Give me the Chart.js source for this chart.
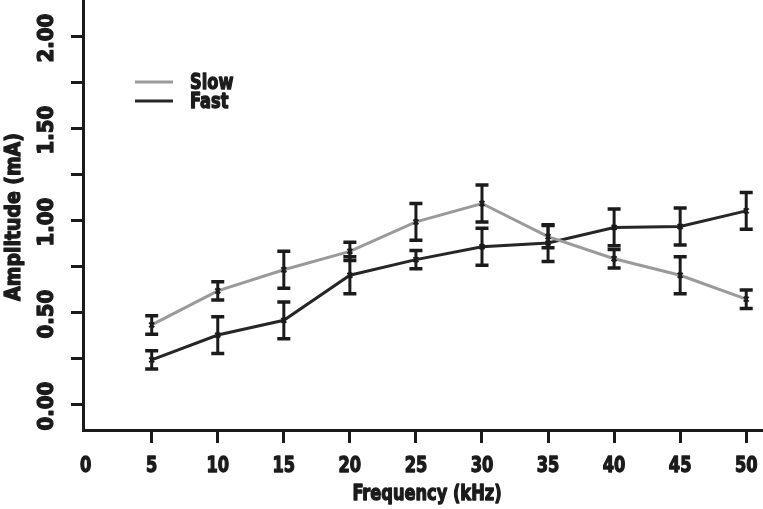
<!DOCTYPE html>
<html>
<head>
<meta charset="utf-8">
<script src="https://cdn.jsdelivr.net/npm/chart.js@4/dist/chart.umd.min.js"></script>
<style>
  html, body { margin: 0; padding: 0; background: #ffffff; }
  #wrap { width: 763px; height: 509px; }
</style>
</head>
<body>
<div id="wrap"><canvas id="c" width="763" height="509"></canvas></div>
<script>
// ---- data ----
const frequencies = [5, 10, 15, 20, 25, 30, 35, 40, 45, 50];
const slowValues  = [0.43, 0.615, 0.73, 0.83, 0.99, 1.09, 0.91, 0.79, 0.70, 0.57];
const slowErrors  = [0.05, 0.05, 0.10, 0.05, 0.10, 0.10, 0.06, 0.05, 0.10, 0.05];
const fastValues  = [0.24, 0.375, 0.455, 0.70, 0.785, 0.855, 0.875, 0.96, 0.965, 1.05];
const fastErrors  = [0.05, 0.10, 0.10, 0.10, 0.05, 0.10, 0.10, 0.10, 0.10, 0.10];
const seriesNames = ['Slow', 'Fast'];
const xTickValues = [0, 5, 10, 15, 20, 25, 30, 35, 40, 45, 50];
const xTickLabels = ['0', '5', '10', '15', '20', '25', '30', '35', '40', '45', '50'];
const yTickValues = [0, 0.25, 0.5, 0.75, 1.0, 1.25, 1.5, 1.75, 2.0];
const yLabelValues = [0, 0.5, 1.0, 1.5, 2.0];
const yTickLabels = ['0.00', '0.50', '1.00', '1.50', '2.00'];
const xTitle = 'Frequency (kHz)';
const yTitle = 'Amplitude (mA)';

const INK = '#1b1b1b';
const SLOW_COLOR = '#9a9a9a';
const FAST_COLOR = '#262626';
const FONT = '"DejaVu Sans Condensed", "Liberation Sans Narrow", sans-serif';

function toPoints(vals) { return frequencies.map((f, i) => ({ x: f, y: vals[i] })); }

const errorSets = [slowErrors, fastErrors];

// draws heavy, condensed text; sx = horizontal compression
function boldText(ctx, txt, x, y, size, sx) {
  ctx.save();
  ctx.translate(x, y);
  ctx.scale(sx, 1);
  ctx.font = 'bold ' + size + 'px ' + FONT;
  ctx.fillStyle = INK;
  ctx.fillText(txt, 0, 0);
  ctx.lineWidth = 1.3;
  ctx.lineJoin = 'round';
  ctx.strokeStyle = INK;
  ctx.strokeText(txt, 0, 0);
  ctx.restore();
}

const errorBarPlugin = {
  id: 'errorBars',
  afterDatasetsDraw(chart) {
    const ctx = chart.ctx;
    const xs = chart.scales.x, ys = chart.scales.y;
    ctx.save();
    ctx.strokeStyle = INK;
    ctx.lineCap = 'butt';
    chart.data.datasets.forEach((ds, di) => {
      const errs = errorSets[di];
      ds.data.forEach((p, i) => {
        const px = xs.getPixelForValue(p.x);
        const top = ys.getPixelForValue(p.y + errs[i]);
        const bot = ys.getPixelForValue(p.y - errs[i]);
        ctx.lineWidth = 3;
        ctx.beginPath();
        ctx.moveTo(px, top); ctx.lineTo(px, bot);
        ctx.stroke();
        ctx.lineWidth = 3.5;
        ctx.beginPath();
        ctx.moveTo(px - 6.5, top); ctx.lineTo(px + 6.5, top);
        ctx.moveTo(px - 6.5, bot); ctx.lineTo(px + 6.5, bot);
        ctx.stroke();
      });
    });
    ctx.restore();
  }
};

const textPlugin = {
  id: 'texts',
  afterDraw(chart) {
    const ctx = chart.ctx;
    const xs = chart.scales.x, ys = chart.scales.y;
    const area = chart.chartArea;
    ctx.save();
    ctx.textAlign = 'center';
    ctx.textBaseline = 'middle';
    // x tick labels
    xTickValues.forEach((v, i) => {
      boldText(ctx, xTickLabels[i], xs.getPixelForValue(v), area.bottom + 36, 22, 0.82);
    });
    // y tick labels (rotated)
    yLabelValues.forEach((v, i) => {
      ctx.save();
      ctx.translate(area.left - 36, ys.getPixelForValue(v) + 2);
      ctx.rotate(-Math.PI / 2);
      boldText(ctx, yTickLabels[i], 0, 0, 22, 1.0);
      ctx.restore();
    });
    // axis titles
    boldText(ctx, xTitle, (area.left + area.right) / 2 + 4, area.bottom + 64, 22, 0.82);
    ctx.save();
    ctx.translate(area.left - 68, (area.top + area.bottom) / 2 + 2);
    ctx.rotate(-Math.PI / 2);
    boldText(ctx, yTitle, 0, 0, 21, 1.0);
    ctx.restore();
    // legend
    const lx0 = area.left + 52, lx1 = area.left + 90;
    const ly = [area.top + 82, area.top + 101];
    const cols = [SLOW_COLOR, FAST_COLOR];
    seriesNames.forEach((name, i) => {
      ctx.strokeStyle = cols[i];
      ctx.lineWidth = 3;
      ctx.beginPath();
      ctx.moveTo(lx0, ly[i]); ctx.lineTo(lx1, ly[i]);
      ctx.stroke();
      ctx.textAlign = 'left';
      boldText(ctx, name, area.left + 107, ly[i] + 1, 22, 0.82);
    });
    ctx.restore();
  }
};

new Chart(document.getElementById('c'), {
  type: 'line',
  data: {
    datasets: [
      {
        label: seriesNames[0],
        data: toPoints(slowValues),
        borderColor: SLOW_COLOR,
        borderWidth: 3,
        pointStyle: 'crossRot',
        pointRadius: 3.5,
        pointBorderColor: INK,
        pointBorderWidth: 2,
        tension: 0,
        fill: false
      },
      {
        label: seriesNames[1],
        data: toPoints(fastValues),
        borderColor: FAST_COLOR,
        borderWidth: 3,
        pointStyle: 'crossRot',
        pointRadius: 3.5,
        pointBorderColor: INK,
        pointBorderWidth: 2,
        tension: 0,
        fill: false
      }
    ]
  },
  options: {
    responsive: false,
    animation: false,
    devicePixelRatio: 1,
    layout: { padding: 0, autoPadding: false },
    plugins: {
      legend: { display: false },
      tooltip: { enabled: false },
      title: { display: false }
    },
    scales: {
      x: {
        type: 'linear',
        min: -0.2,
        max: 51.27,
        afterBuildTicks(axis) { axis.ticks = xTickValues.map(v => ({ value: v })); },
        afterFit(axis) { axis.height = 79; },
        ticks: { display: false },
        grid: {
          display: true,
          drawOnChartArea: false,
          drawTicks: true,
          tickLength: 13,
          lineWidth: 3,
          color: (c) => (c.tick && c.tick.value === 0) ? 'rgba(0,0,0,0)' : INK
        },
        border: { display: true, width: 3, color: INK }
      },
      y: {
        type: 'linear',
        min: -0.141,
        max: 2.196,
        afterBuildTicks(axis) { axis.ticks = yTickValues.map(v => ({ value: v })); },
        afterFit(axis) { axis.width = 83; },
        ticks: { display: false },
        grid: {
          display: true,
          drawOnChartArea: false,
          drawTicks: true,
          tickLength: 12,
          lineWidth: 3,
          color: INK
        },
        border: { display: true, width: 3, color: INK }
      }
    }
  },
  plugins: [errorBarPlugin, textPlugin]
});
</script>
</body>
</html>
